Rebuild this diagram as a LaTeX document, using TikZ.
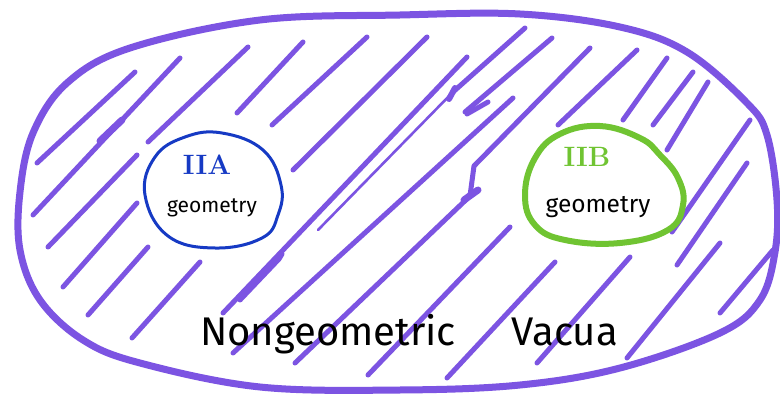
\documentclass[tikz,border=0pt]{standalone}
\usepackage{fontspec}
\newfontfamily\hand{Fira Sans}
\definecolor{marker}{RGB}{124,84,226}
\definecolor{inkblue}{RGB}{22,58,196}
\definecolor{inkgreen}{RGB}{112,196,50}
\begin{document}
\begin{tikzpicture}[x=1pt,y=-1pt,
  hatch/.style={draw=marker,line width=5,line cap=round,line join=round},
  thinhatch/.style={hatch,line width=2.6},
  rim/.style={draw=marker,line width=7,line join=round},
  label/.style={inner sep=0pt,anchor=base,text=black},
  roman/.style={inner sep=0pt,anchor=base,font=\fontsize{28}{30}\selectfont\bfseries}]
\useasboundingbox[fill=white] (0,0) rectangle (780,401);

% outer region
\draw[rim] plot[smooth cycle,tension=0.6] coordinates {
  (20,192) (33,133) (67,83) (130,48) (260,20) (400,15) (520,14) (620,27)
  (687,52) (747,103) (767,135) (777,200) (775,252) (760,300) (720,333)
  (620,368) (520,385) (400,390) (260,387) (140,363) (83,340) (40,300) (20,250)};

% hatching, left part
\draw[hatch] (37,163) -- (135,72);
\draw[hatch] (33,215) -- (180,58);
\draw[hatch,line width=7] (100,141) -- (122,120);
\draw[hatch] (148,142) -- (248,47);
\draw[hatch] (48,247) -- (137,155);
\draw[hatch] (63,287) -- (137,203);
\draw[hatch] (88,315) -- (148,247);
\draw[hatch] (132,338) -- (200,262);

% hatching, middle part
\draw[hatch] (237,113) -- (303,42);
\draw[hatch] (272,125) -- (367,37);
\draw[hatch] (293,170) -- (427,37);
\draw[hatch] (223,313) -- (467,57);
\draw[hatch] (240,300) -- (279,259) -- (282,254);
\draw[thinhatch] (318,230) -- (453,92);
\draw[hatch] (453,92) -- (525,28);
\draw[hatch,line width=6] (449,99) -- (455,88);
\draw[hatch] (233,353) -- (513,98);
\draw[hatch] (465,112) -- (552,38);
\draw[hatch] (467,114) -- (488,102);
\draw[hatch] (295,363) -- (470,196) -- (474,166) -- (590,48);
\draw[hatch,line width=7] (464,200) -- (478,190);
\draw[hatch] (368,375) -- (510,227);
\draw[hatch] (447,378) -- (555,262);

% hatching, right part
\draw[hatch] (558,125) -- (637,50);
\draw[hatch] (623,120) -- (667,58);
\draw[hatch] (653,125) -- (693,72);
\draw[hatch] (667,150) -- (708,82);
\draw[hatch] (672,232) -- (750,120);
\draw[hatch] (677,265) -- (747,163);
\draw[hatch] (537,363) -- (630,257);
\draw[hatch] (627,358) -- (720,243);
\draw[hatch] (720,313) -- (773,250);

% the two geometric regions
\fill[white] plot[smooth cycle,tension=0.7] coordinates {
  (145,195) (155,157) (185,137) (222,133) (263,150) (281,185)
  (278,215) (262,238) (215,248) (168,236)};
\draw[inkblue,line width=3] plot[smooth cycle,tension=0.7] coordinates {
  (145,195) (155,157) (185,137) (222,133) (263,150) (281,185)
  (278,215) (262,238) (215,248) (168,236)};
\fill[white] plot[smooth cycle,tension=0.7] coordinates {
  (525,195) (535,158) (560,134) (600,126) (640,138) (660,155) (678,178)
  (683,205) (668,230) (620,243) (565,240) (535,225)};
\draw[inkgreen,line width=6] plot[smooth cycle,tension=0.7] coordinates {
  (525,195) (535,158) (560,134) (600,126) (640,138) (660,155) (678,178)
  (683,205) (668,230) (620,243) (565,240) (535,225)};

% labels
\node[roman,text=inkblue] (iia) at (207,175) {IIA};
\node[label,font=\hand\fontsize{21}{24}\selectfont] (geoa) at (212,213) {geometry};
\node[label,font=\hand\fontsize{24.5}{26}\selectfont] (geob) at (598,213) {geometry};
\node[roman,text=inkgreen] (iib) at (587,167) {IIB};
\node[label,font=\hand\fontsize{40}{44}\selectfont] (vac) at (409,345)
  {Nongeometric\hspace{56pt}Vacua};
\end{tikzpicture}
\end{document}
